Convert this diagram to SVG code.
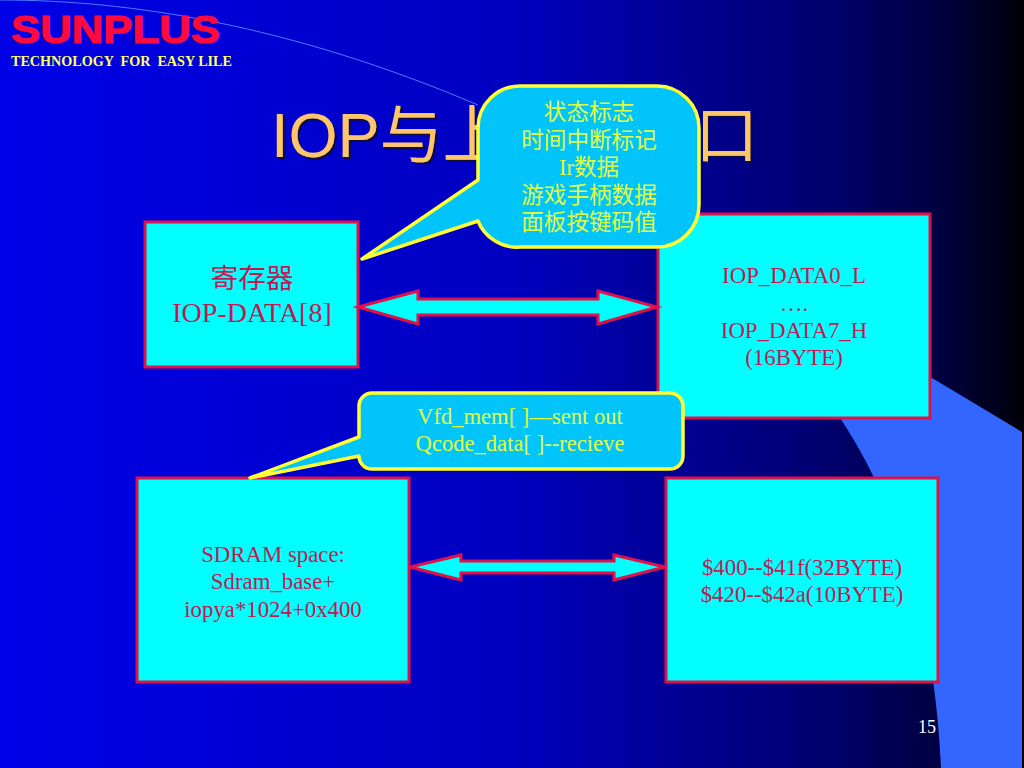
<svg xmlns="http://www.w3.org/2000/svg" width="1024" height="768" viewBox="0 0 1024 768">
<style>
.box{fill:#00ffff;stroke:#e0104a;stroke-width:3}
.arrow{fill:#00ffff;stroke:#e0104a;stroke-width:3;stroke-linejoin:miter}
.call{fill:#00c4fa;stroke:#ffff33;stroke-width:3.5;stroke-linejoin:round}
text{font-family:"Liberation Serif","Noto Sans CJK SC",serif;text-anchor:middle}
.r{fill:#c01a52}
.y{fill:#e0ff40;font-size:22.6px}
.title{font-family:"Liberation Sans","Noto Sans CJK SC",sans-serif;font-size:63px;fill:#ffc56a;text-anchor:start;filter:url(#sh)}
</style>
<defs>
<linearGradient id="bg" x1="0" y1="0" x2="1" y2="0">
<stop offset="0" stop-color="#0000e8"/><stop offset="0.5" stop-color="#0000c0"/><stop offset="0.8" stop-color="#000070"/><stop offset="0.92" stop-color="#000040"/><stop offset="1" stop-color="#000008"/>
</linearGradient>
<filter id="sh" x="-5%" y="-10%" width="110%" height="120%"><feDropShadow dx="2" dy="2" stdDeviation="0.6" flood-color="#10103c"/></filter>
</defs>
<rect width="1024" height="768" fill="url(#bg)"/>
<path d="M800 378H932L1022 432V768H941C937 670 915 530 840 418Z" fill="#3366ff"/>
<path d="M0 0C130 0 290 25 478 105" fill="none" stroke="#4d7dff" stroke-width="1"/>
<g id="brand">
<text x="11" y="43" textLength="209" lengthAdjust="spacingAndGlyphs" style="font-family:'Liberation Sans',sans-serif;font-weight:bold;font-size:38px;fill:#ff0a3c;text-anchor:start;stroke:#ff0a3c;stroke-width:1">SUNPLUS</text>
<text x="11" y="66" textLength="221" lengthAdjust="spacingAndGlyphs" style="font-weight:bold;font-size:14px;fill:#ffff66;text-anchor:start" xml:space="preserve">TECHNOLOGY  FOR  EASY LILE</text>
</g>
<g id="title">
<text class="title" x="271" y="157">IOP与上</text>
<text class="title" x="695" y="157">口</text>
</g>
<g id="node-register">
<rect class="box" x="145" y="222" width="213" height="145"/>
<text class="r" x="252" y="288" font-size="27.7">寄存器</text>
<text class="r" x="252" y="322" font-size="28">IOP-DATA[8]</text>
</g>
<g id="node-iop-data">
<rect class="box" x="658" y="214" width="272" height="204"/>
<text class="r" x="794" y="283" font-size="22.8">IOP_DATA0_L</text>
<text class="r" x="794" y="311" font-size="22.8">….</text>
<text class="r" x="794" y="338" font-size="22.8">IOP_DATA7_H</text>
<text class="r" x="794" y="365" font-size="22.8">(16BYTE)</text>
</g>
<g id="node-sdram">
<rect class="box" x="137" y="478" width="272" height="204"/>
<text class="r" x="273" y="562" font-size="22.8">SDRAM space:</text>
<text class="r" x="273" y="589" font-size="22.8">Sdram_base+</text>
<text class="r" x="273" y="617" font-size="22.8">iopya*1024+0x400</text>
</g>
<g id="node-addr">
<rect class="box" x="666" y="478" width="272" height="204"/>
<text class="r" x="802" y="575" font-size="22.8">$400--$41f(32BYTE)</text>
<text class="r" x="802" y="602" font-size="22.8">$420--$42a(10BYTE)</text>
</g>
<g id="connectors">
<path class="arrow" d="M358 307L418 291V299H598V291L657 307L598 324V315H418V324Z"/>
<path class="arrow" d="M410 567L461 555V561H614V555L665 567L614 580V573H461V580Z"/>
</g>
<g id="callout-status">
<path class="call" d="M478 128A42 42 0 0 1 520 86H657A42 42 0 0 1 699 128V205A42 42 0 0 1 657 247H520A42 42 0 0 1 478 221L362 259L478 180Z"/>
<text class="y" x="589" y="120">状态标志</text>
<text class="y" x="589" y="148">时间中断标记</text>
<text class="y" x="589" y="175">Ir数据</text>
<text class="y" x="589" y="203">游戏手柄数据</text>
<text class="y" x="589" y="230">面板按键码值</text>
</g>
<g id="callout-vfd">
<path class="call" d="M359 405A13 13 0 0 1 372 393H670A13 13 0 0 1 683 405V456A13 13 0 0 1 670 469H372A13 13 0 0 1 359 456L250 478L359 437Z"/>
<text class="y" x="520" y="424">Vfd_mem[ ]—sent out</text>
<text class="y" x="520" y="451">Qcode_data[ ]--recieve</text>
</g>
<text x="927" y="733" font-size="18" fill="#ffffff">15</text>
</svg>
